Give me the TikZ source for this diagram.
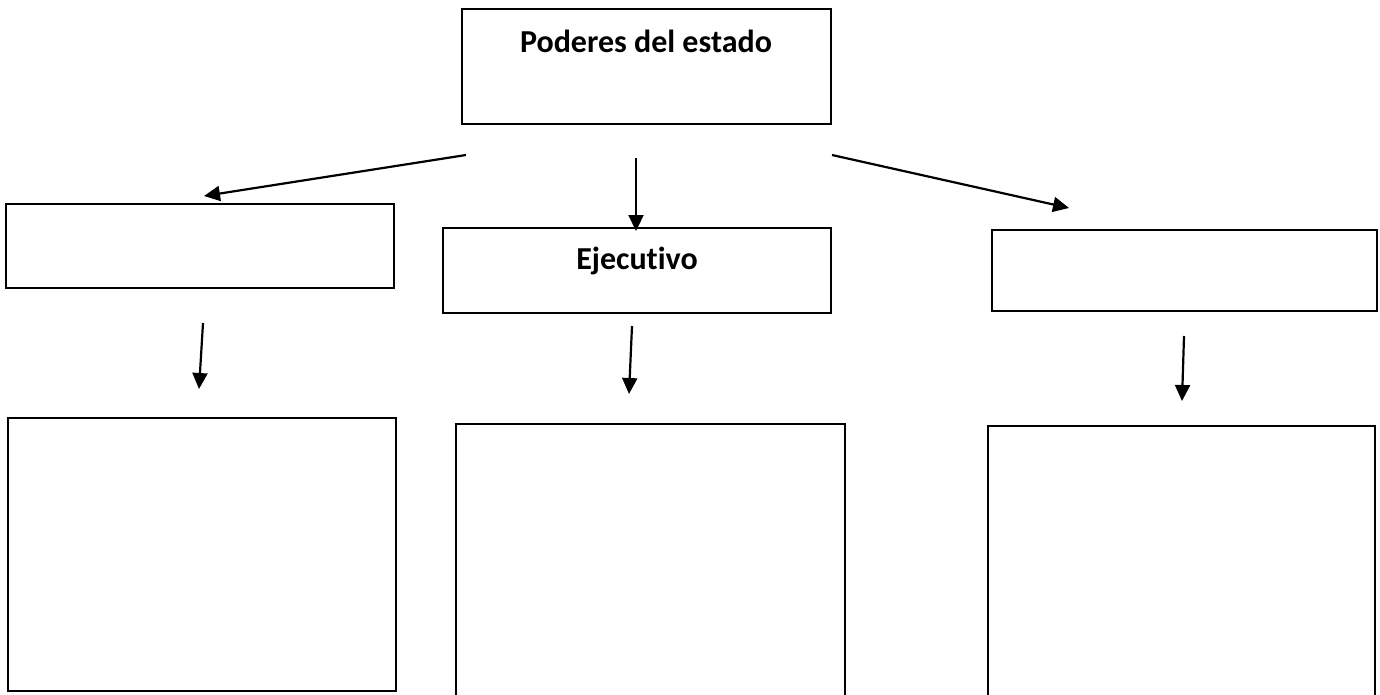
\documentclass[tikz,border=0pt]{standalone}
\usepackage{fontspec}
\setmainfont{Carlito}[Ligatures=NoCommon]
\usetikzlibrary{arrows.meta}
\begin{document}
\begin{tikzpicture}[x=1pt,y=-1pt,
  box/.style={draw=black, line width=2.2pt, rectangle, inner sep=0pt, minimum width=#1},
  lbl/.style={font=\fontsize{32}{38}\selectfont\bfseries, anchor=base, inner sep=0pt},
  arr/.style={line width=2.2pt, -{Triangle[length=16pt,width=15pt]}}]
\useasboundingbox (0,0) rectangle (1380,694);
\clip (0,0) rectangle (1380,694);
% boxes
\node[box=369pt, minimum height=115pt] (top) at (646.5,66.5) {};
\node[box=388pt, minimum height=84pt] (l1) at (200,246) {};
\node[box=388pt, minimum height=85pt] (c1) at (637,270.5) {};
\node[box=385pt, minimum height=81pt] (r1) at (1184.5,270.5) {};
\node[box=388pt, minimum height=273pt] (l2) at (202,554.5) {};
\node[box=389pt, minimum height=286pt] (c2) at (650.5,567) {};
\node[box=387pt, minimum height=284pt] (r2) at (1181.5,568) {};
% labels
\node[lbl] (tt) at (646,52) {Poderes del estado};
\node[lbl] (ct) at (637,269) {Ejecutivo};
% arrow end points
\coordinate (a1s) at (466,155);
\coordinate (a1e) at (204,196);
\coordinate (a2s) at (636,158);
\coordinate (a2e) at (636,231);
\coordinate (a3s) at (832,155);
\coordinate (a3e) at (1069,208);
\coordinate (a4s) at (203,323);
\coordinate (a4e) at (199,389);
\coordinate (a5s) at (632,326);
\coordinate (a5e) at (629,394);
\coordinate (a6s) at (1184,336);
\coordinate (a6e) at (1182,401);
\draw[arr] (a1s) -- (a1e);
\draw[arr] (a2s) -- (a2e);
\draw[arr] (a3s) -- (a3e);
\draw[arr] (a4s) -- (a4e);
\draw[arr] (a5s) -- (a5e);
\draw[arr] (a6s) -- (a6e);
\end{tikzpicture}
\end{document}
